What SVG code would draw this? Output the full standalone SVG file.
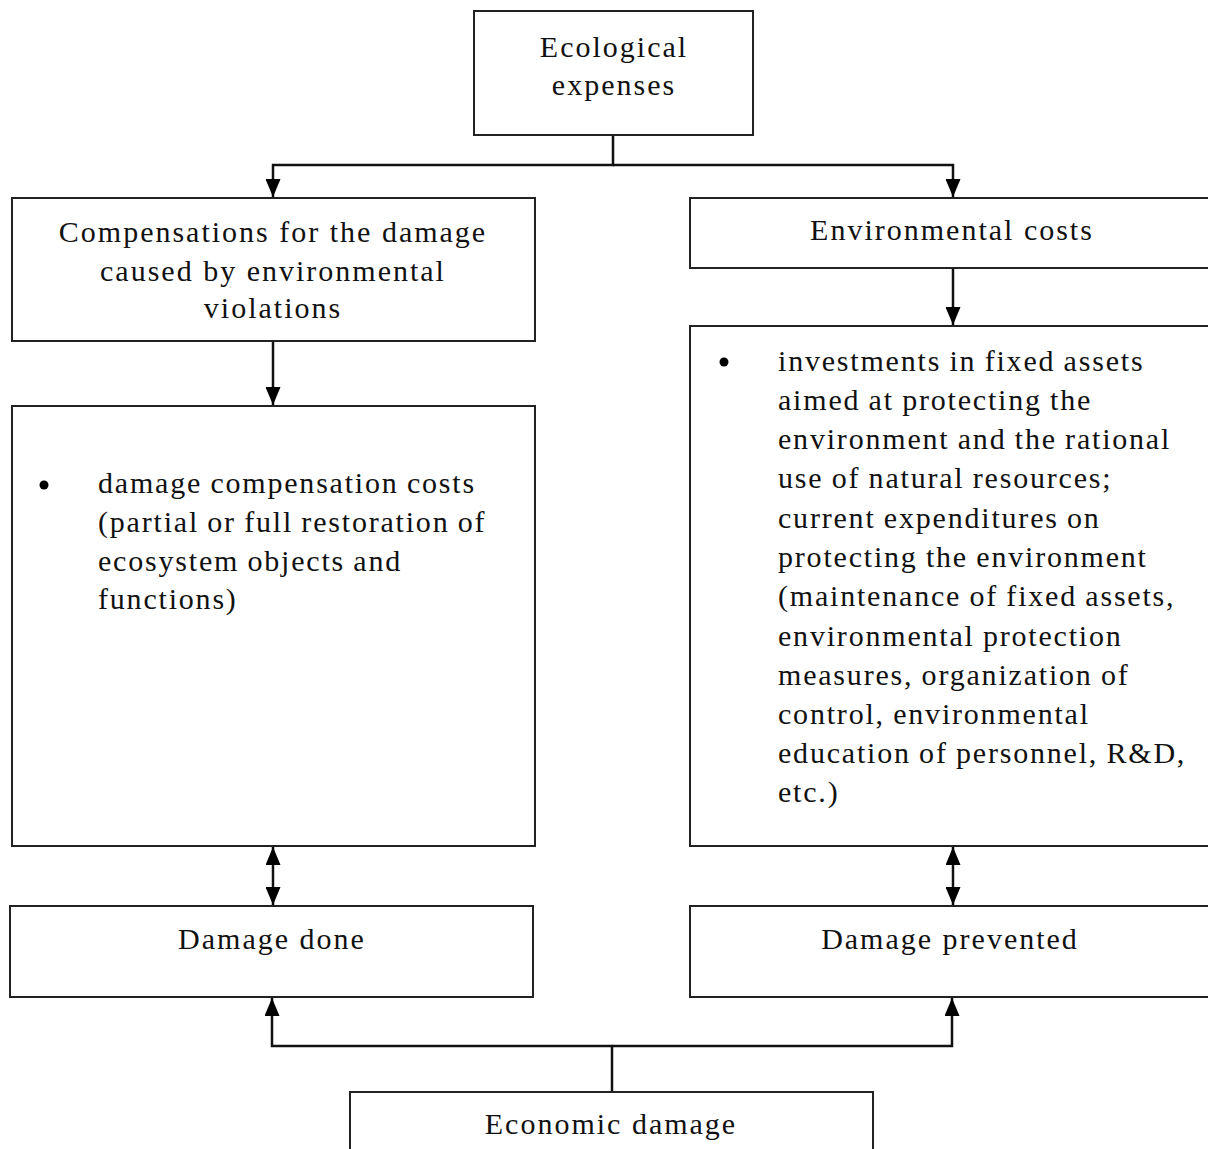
<svg xmlns="http://www.w3.org/2000/svg" width="1208" height="1149" viewBox="0 0 1208 1149">
<defs>
<marker id="ah" viewBox="0 0 18 15" refX="18" refY="7.5" markerWidth="18" markerHeight="15" markerUnits="userSpaceOnUse" orient="auto">
<path d="M0,0 L18,7.5 L0,15 Z" fill="#000"/>
</marker>
<marker id="ahs" viewBox="0 0 18 15" refX="18" refY="7.5" markerWidth="18" markerHeight="15" markerUnits="userSpaceOnUse" orient="auto-start-reverse">
<path d="M0,0 L18,7.5 L0,15 Z" fill="#000"/>
</marker>
</defs>
<style>
.box{fill:#fff;stroke:#222;stroke-width:2}
.t{font-family:"Liberation Serif","Times New Roman",serif;font-size:30px;letter-spacing:2px;fill:#111}
.l{letter-spacing:1.8px;word-spacing:-1px}
.c{text-anchor:middle}
.ln{fill:none;stroke:#111;stroke-width:2.5}
</style>
<rect width="1208" height="1149" fill="#fff"/>
<g id="connectors">
<path class="ln" d="M613,135 V165 H273 V197" marker-end="url(#ah)"/>
<path class="ln" d="M613,165 H953 V197" marker-end="url(#ah)"/>
<path class="ln" d="M953,268 V325" marker-end="url(#ah)"/>
<path class="ln" d="M273,341 V405" marker-end="url(#ah)"/>
<path class="ln" d="M273,847 V905" marker-start="url(#ahs)" marker-end="url(#ah)"/>
<path class="ln" d="M953,847 V905" marker-start="url(#ahs)" marker-end="url(#ah)"/>
<path class="ln" d="M612,1092 V1046 H272 V998" marker-end="url(#ah)"/>
<path class="ln" d="M612,1046 H952 V998" marker-end="url(#ah)"/>
</g>
<g id="ecological-expenses">
<rect class="box" x="474" y="11" width="279" height="124"/>
<text class="t c" x="614" y="57">Ecological</text>
<text class="t c" x="614" y="95">expenses</text>
</g>
<g id="compensations">
<rect class="box" x="12" y="198" width="523" height="143"/>
<text class="t c" x="273" y="242">Compensations for the damage</text>
<text class="t c" x="273" y="281">caused by environmental</text>
<text class="t c" x="273" y="318">violations</text>
</g>
<g id="environmental-costs">
<rect class="box" x="690" y="198" width="530" height="70"/>
<text class="t c" x="952" y="240">Environmental costs</text>
</g>
<g id="damage-compensation-costs">
<rect class="box" x="12" y="406" width="523" height="440"/>
<circle cx="44" cy="485" r="4.5" fill="#000"/>
<text class="t l" x="98" y="493">damage compensation costs</text>
<text class="t l" x="98" y="532">(partial or full restoration of</text>
<text class="t l" x="98" y="571">ecosystem objects and</text>
<text class="t l" x="98" y="609">functions)</text>
</g>
<g id="investments">
<rect class="box" x="690" y="326" width="530" height="520"/>
<circle cx="724" cy="362" r="4.5" fill="#000"/>
<text class="t l" x="778" y="371">investments in fixed assets</text>
<text class="t l" x="778" y="410">aimed at protecting the</text>
<text class="t l" x="778" y="449">environment and the rational</text>
<text class="t l" x="778" y="488">use of natural resources;</text>
<text class="t l" x="778" y="528">current expenditures on</text>
<text class="t l" x="778" y="567">protecting the environment</text>
<text class="t l" x="778" y="606">(maintenance of fixed assets,</text>
<text class="t l" x="778" y="646">environmental protection</text>
<text class="t l" x="778" y="685">measures, organization of</text>
<text class="t l" x="778" y="724">control, environmental</text>
<text class="t l" x="778" y="763">education of personnel, R&amp;D,</text>
<text class="t l" x="778" y="802">etc.)</text>
</g>
<g id="damage-done">
<rect class="box" x="10" y="906" width="523" height="91"/>
<text class="t c" x="272" y="949">Damage done</text>
</g>
<g id="damage-prevented">
<rect class="box" x="690" y="906" width="530" height="91"/>
<text class="t c" x="950" y="949">Damage prevented</text>
</g>
<g id="economic-damage">
<rect class="box" x="350" y="1092" width="523" height="70"/>
<text class="t c" x="611" y="1134">Economic damage</text>
</g>
</svg>
